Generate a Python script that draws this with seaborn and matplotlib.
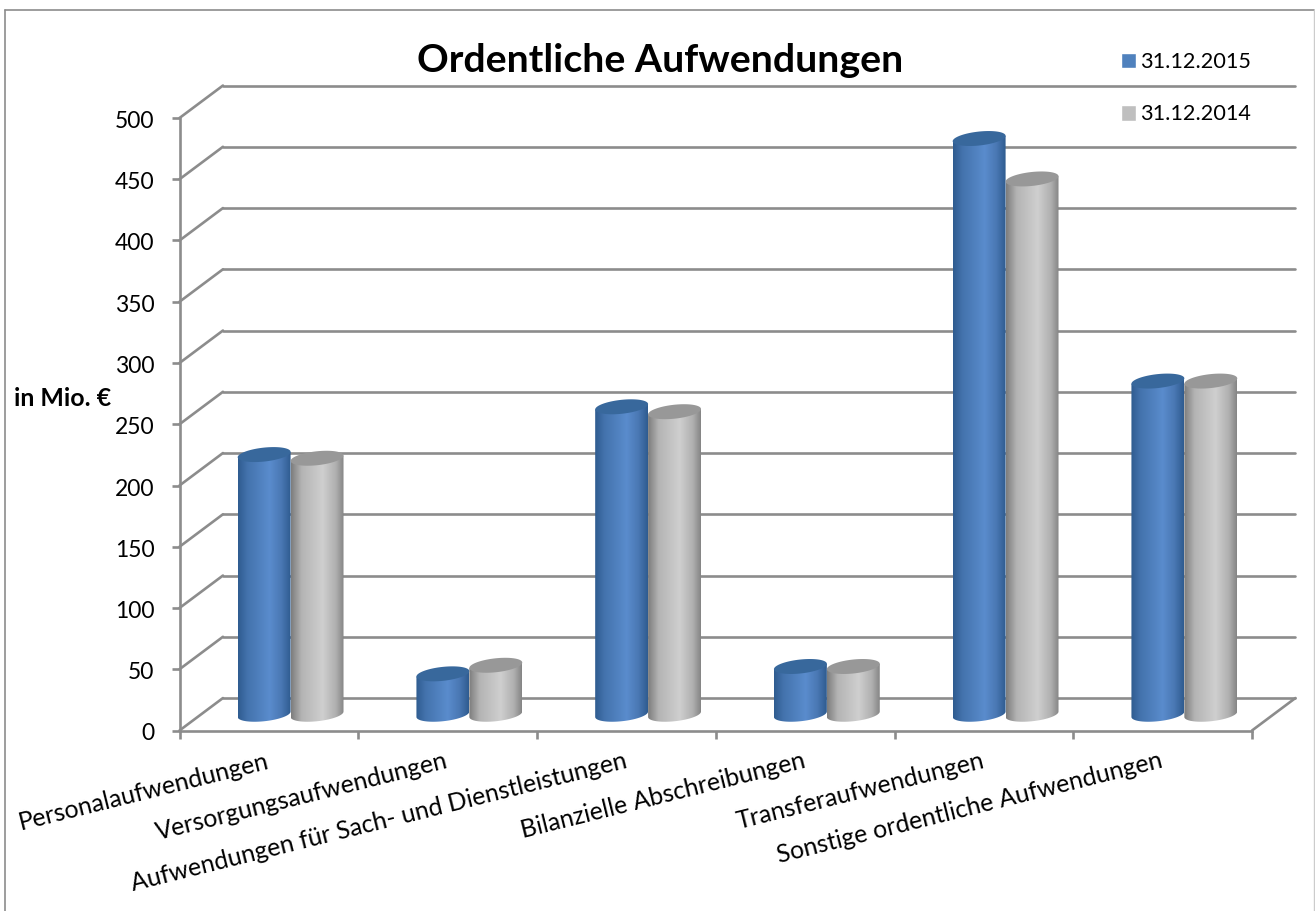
import numpy as np
import pandas as pd
import matplotlib
matplotlib.use('Agg')
import matplotlib.pyplot as plt
from matplotlib.colors import LinearSegmentedColormap
from matplotlib.lines import Line2D
from matplotlib.patches import Polygon
from matplotlib.transforms import ScaledTranslation
import seaborn as sns

categories = ['Personalaufwendungen', 'Versorgungsaufwendungen',
              'Aufwendungen für Sach- und Dienstleistungen', 'Bilanzielle Abschreibungen',
              'Transferaufwendungen', 'Sonstige ordentliche Aufwendungen']
values_2015 = [212, 33, 251, 39, 470, 272]
values_2014 = [209, 40, 247, 39, 437, 272]
series_names = ['31.12.2015', '31.12.2014']
y_ticks = [0, 50, 100, 150, 200, 250, 300, 350, 400, 450, 500]

AXIS_COLOR = '#8c8c8c'
DEPTH_X = 0.243  # wall depth in category units
DEPTH_Y = 26.5  # wall depth in value units
ELL_B = 5.7
ELL_TILT = 2.2

sns.set_style('white')
plt.rcParams['font.family'] = ['Lato', 'DejaVu Sans']
plt.rcParams['text.color'] = 'black'

df = pd.DataFrame({
    'category': categories * 2,
    'value': values_2015 + values_2014,
    'series': [series_names[0]] * 6 + [series_names[1]] * 6,
})

fig = plt.figure(figsize=(13.15, 9.11), dpi=100)
ax = fig.add_axes([179.5 / 1315, 1 - 730.5 / 911, (1252 - 179.5) / 1315, (730.5 - 118) / 911])

sns.barplot(data=df, x='category', y='value', hue='series', ax=ax, width=0.592, gap=0,
            palette=['#4f81bd', '#bfbfbf'], errorbar=None, saturation=1)

leg = ax.legend(loc='upper left', bbox_to_anchor=(1120.5 / 1315, 1 - 52 / 911),
                bbox_transform=fig.transFigure, frameon=False, fontsize=15.6,
                handlelength=0.72, handleheight=0.72, handletextpad=0.2,
                labelspacing=1.5, borderpad=0, borderaxespad=0)

# walls and floor behind the bars
for v in y_ticks:
    ax.plot([-0.5, -0.5 + DEPTH_X], [v, v + DEPTH_Y], color=AXIS_COLOR, lw=1.9, clip_on=False, zorder=1)
    ax.plot([-0.5 + DEPTH_X, 5.5 + DEPTH_X], [v + DEPTH_Y, v + DEPTH_Y], color=AXIS_COLOR, lw=1.9,
            clip_on=False, zorder=1)
ax.plot([5.5, 5.5 + DEPTH_X], [0, DEPTH_Y], color=AXIS_COLOR, lw=1.9, clip_on=False, zorder=1)

cmaps = [
    LinearSegmentedColormap.from_list('blue', [(0, '#2f5c90'), (0.18, '#4473ad'), (0.6, '#5a8ccd'),
                                               (0.82, '#4a78b4'), (1, '#2f5c90')]),
    LinearSegmentedColormap.from_list('grey', [(0, '#7d7d7d'), (0.2, '#b4b4b4'), (0.6, '#cfcfcf'),
                                               (0.85, '#b0b0b0'), (1, '#858585')]),
]
top_colors = ['#38689c', '#989898']
gradient = np.linspace(0, 1, 128).reshape(1, -1)
t_bottom = np.linspace(np.pi, 2 * np.pi, 50)
t_full = np.linspace(0, 2 * np.pi, 100)

# turn the flat seaborn bars into cylinders
for s, container in enumerate(ax.containers):
    for bar in container:
        x0 = bar.get_x() + DEPTH_X / 2
        w = bar.get_width()
        h = bar.get_height()
        base = DEPTH_Y / 2
        cx = x0 + w / 2
        bar.set_visible(False)

        bx = cx + w / 2 * np.cos(t_bottom)
        by = base + ELL_B * np.sin(t_bottom) + ELL_TILT * np.cos(t_bottom)
        body = np.vstack([np.column_stack([bx, by]),
                          [[x0 + w, base + h + ELL_TILT], [x0, base + h - ELL_TILT]]])
        clip = Polygon(body, closed=True, transform=ax.transData)
        im = ax.imshow(gradient, extent=[x0, x0 + w, 0, 500], aspect='auto', cmap=cmaps[s],
                       zorder=3 + s, interpolation='bilinear')
        im.set_clip_path(clip)

        tx = cx + w / 2 * np.cos(t_full)
        ty = base + h + ELL_B * np.sin(t_full) + ELL_TILT * np.cos(t_full)
        ax.fill(tx, ty, color=top_colors[s], zorder=3 + s, lw=0, clip_on=False)

ax.set_xlim(-0.5, 5.5)
ax.set_ylim(0, 500)
ax.set_xlabel('')
ax.set_ylabel('')
sns.despine(ax=ax)
for side in ['left', 'bottom']:
    ax.spines[side].set_color(AXIS_COLOR)
    ax.spines[side].set_linewidth(1.9)
    ax.spines[side].set_zorder(2)

ax.set_yticks(y_ticks)
ax.tick_params(axis='y', left=True, length=6, width=1.9, color=AXIS_COLOR, labelsize=16.5, pad=12,
               labelcolor='black')
ax.set_xticks(np.arange(len(categories)))
ax.set_xticklabels(categories, rotation=14, ha='right', rotation_mode='anchor', fontsize=17.8, color='black')
ax.set_xticks(np.arange(len(categories) + 1) - 0.5, minor=True)
ax.tick_params(axis='x', which='major', bottom=False, pad=10)
ax.tick_params(axis='x', which='minor', bottom=True, length=6, width=1.9, color=AXIS_COLOR)

# small nudges so the labels sit where the original has them
for lab in ax.get_xticklabels():
    lab.set_transform(lab.get_transform() + ScaledTranslation(-3 / 100, 0, fig.dpi_scale_trans))
for lab in ax.get_yticklabels():
    lab.set_transform(lab.get_transform() + ScaledTranslation(0, -1.5 / 100, fig.dpi_scale_trans))

fig.text(660 / 1315, 1 - 60 / 911, 'Ordentliche Aufwendungen', fontsize=28.3, fontweight='bold',
         ha='center', va='center')
fig.text(14 / 1315, 1 - 398 / 911, 'in Mio. €', fontsize=17.9, fontweight='bold', ha='left', va='center')

# chart frame
fig.add_artist(Line2D([5 / 1315, 5 / 1315], [0, 1 - 9.5 / 911], color=AXIS_COLOR, lw=1.2))
fig.add_artist(Line2D([5 / 1315, 1314 / 1315], [1 - 9.5 / 911, 1 - 9.5 / 911], color=AXIS_COLOR, lw=1.2))
fig.add_artist(Line2D([1314 / 1315, 1314 / 1315], [0, 1 - 9.5 / 911], color='#cccccc', lw=1.0))

fig.savefig('out.png', dpi=100)
